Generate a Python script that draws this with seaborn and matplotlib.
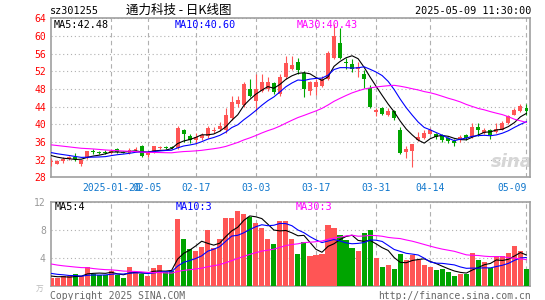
import numpy as np
import pandas as pd
import matplotlib
matplotlib.use('Agg')
import matplotlib.pyplot as plt
import seaborn as sns

sns.set_style("white")
plt.rcParams['font.family'] = ['DejaVu Sans Mono', 'Noto Sans CJK SC']

# -------------------------------
# data: sz301255 daily bars, 2025-01-06 .. 2025-05-09 (80 sessions)
# -------------------------------
opens = [31.4, 31.1, 31.7, 32.2, 32.5, 31.0, 32.4, 33.9, 33.8, 33.8,
         33.5, 34.4, 33.8, 33.4, 34.2, 35.0, 33.0, 33.6, 34.6, 34.9,
         34.8, 34.6, 38.7, 37.4, 36.5, 36.8, 37.3, 38.4, 38.9, 38.6,
         41.5, 44.6, 44.3, 48.0, 45.2, 47.6, 48.0, 49.3, 46.8, 50.6,
         52.6, 54.0, 51.7, 47.6, 48.4, 48.7, 50.2, 55.1, 58.5, 54.0,
         53.6, 52.5, 51.3, 48.2, 42.8, 43.8, 42.2, 42.9, 38.7, 33.7,
         33.9, 36.5, 36.9, 37.9, 37.7, 37.3, 36.8, 36.3, 36.4, 37.5,
         37.2, 39.5, 38.0, 38.8, 38.3, 38.8, 40.3, 42.2, 43.0, 43.6]
highs = [32.4, 32.0, 32.7, 32.8, 33.4, 32.0, 34.0, 34.4, 34.0, 34.1,
         34.3, 34.6, 33.9, 34.6, 34.8, 35.3, 33.9, 35.2, 35.0, 35.1,
         35.0, 39.7, 38.9, 37.8, 38.0, 38.0, 39.6, 39.3, 40.5, 43.6,
         46.3, 46.3, 49.6, 50.2, 51.4, 51.3, 50.8, 49.5, 51.3, 55.5,
         55.5, 54.9, 52.1, 49.8, 50.2, 51.0, 56.6, 62.6, 61.9, 55.1,
         54.7, 54.0, 52.2, 49.0, 43.8, 44.0, 43.6, 43.3, 39.5, 35.0,
         35.6, 38.3, 38.6, 39.2, 38.1, 37.8, 37.1, 36.7, 37.5, 37.7,
         40.3, 40.3, 39.2, 39.0, 40.3, 40.8, 42.2, 43.6, 44.6, 44.5]
lows = [30.5, 30.9, 31.2, 32.0, 31.6, 30.5, 32.2, 33.3, 33.2, 33.3,
        33.3, 33.6, 33.4, 33.3, 34.0, 32.5, 32.6, 33.4, 34.4, 34.5,
        34.3, 34.4, 36.1, 35.8, 35.8, 36.5, 37.0, 38.0, 38.5, 38.0,
        41.0, 44.0, 44.0, 46.2, 43.1, 47.3, 47.5, 46.8, 46.3, 50.3,
        52.3, 51.4, 46.1, 46.6, 46.6, 48.4, 50.0, 54.8, 54.7, 52.5,
        51.8, 50.6, 48.3, 43.8, 41.9, 42.0, 41.9, 41.0, 33.3, 32.4,
        30.3, 36.3, 36.7, 37.7, 36.7, 36.0, 35.8, 35.1, 35.9, 36.5,
        37.0, 37.3, 37.7, 36.6, 38.0, 38.6, 40.0, 42.0, 42.8, 42.0]
closes = [31.6, 31.8, 32.2, 32.5, 32.1, 31.9, 33.9, 33.7, 33.5, 33.6,
          34.0, 33.8, 33.6, 34.2, 34.4, 32.8, 33.4, 35.0, 34.8, 34.7,
          34.6, 39.1, 37.9, 36.4, 37.1, 37.6, 39.1, 38.8, 39.6, 42.0,
          45.0, 45.4, 49.2, 46.5, 48.0, 49.5, 49.5, 47.3, 50.8, 53.8,
          53.5, 52.2, 48.1, 49.6, 49.6, 50.2, 56.2, 60.0, 55.1, 53.8,
          52.5, 52.9, 50.3, 44.0, 43.3, 42.3, 43.0, 41.5, 33.6, 34.3,
          35.6, 37.1, 38.1, 38.6, 37.1, 36.4, 36.2, 35.8, 37.2, 36.8,
          39.5, 38.7, 38.8, 37.6, 39.0, 40.3, 41.8, 43.3, 44.1, 42.9]
volumes = [1.05, 1.05, 1.3, 1.3, 1.7, 1.3, 2.7, 1.7, 1.5, 1.5,
           2.1, 1.5, 1.1, 2.7, 2.0, 1.6, 1.4, 2.5, 2.9, 1.9,
           2.1, 9.5, 6.6, 5.2, 4.9, 5.5, 8.0, 5.3, 6.6, 9.6,
           9.6, 10.6, 10.2, 9.8, 9.0, 8.3, 6.6, 6.0, 9.2, 9.3,
           6.6, 4.5, 6.3, 4.2, 4.3, 4.5, 8.7, 8.2, 7.2, 6.5,
           5.4, 5.0, 7.5, 7.9, 4.0, 2.7, 3.0, 2.4, 4.5, 3.7,
           4.3, 3.7, 2.9, 2.6, 2.2, 2.4, 1.9, 1.3, 1.6, 1.7,
           4.6, 3.7, 3.3, 2.5, 4.2, 4.2, 4.6, 5.6, 5.0, 2.4]

# the 29 sessions before the window (only feed the moving averages)
pre_closes = [36.5, 36.8, 37.2, 36.9, 36.4, 36.0, 36.3, 36.8, 37.0, 36.6,
              36.1, 35.8, 36.2, 36.5, 36.0, 35.6, 35.2, 35.5, 35.8, 35.3,
              34.4, 34.2, 34.5, 34.3, 33.9, 33.6, 33.4, 33.1, 32.9]
pre_volumes = [5.6, 4.6, 3.9, 4.4, 3.6, 3.2, 5.4, 4.1, 3.5, 3.0,
               3.7, 4.2, 3.4, 2.9, 3.3, 3.8, 3.1, 2.7, 3.6, 3.0,
               2.4, 2.0, 2.3, 1.8, 2.1, 1.5, 1.3, 1.6, 1.3]

tick_idx = [10, 16, 24, 34, 44, 54, 63, 79]
tick_lbl = ['2025-01-20', '02-05', '02-17', '03-03', '03-17', '03-31', '04-14', '05-09']
price_ticks = [28, 32, 36, 40, 44, 48, 52, 56, 60, 64]
vol_ticks = [4, 8, 12]

code = 'sz301255'
title = '通力科技 - 日K线图'
stamp = '2025-05-09 11:30:00'
price_ma_lbl = ['MA5:42.48', 'MA10:40.60', 'MA30:40.43']
vol_ma_lbl = ['MA5:4', 'MA10:3', 'MA30:3']

# -------------------------------
# frame
# -------------------------------
df = pd.DataFrame({'idx': np.arange(len(closes)), 'open': opens, 'high': highs,
                   'low': lows, 'close': closes, 'vol': volumes})
df['dir'] = np.where(df['close'] > df['open'], 'up', 'down')

all_c = pd.Series(pre_closes + closes)
all_v = pd.Series(pre_volumes + volumes)
n0 = len(pre_closes)
for n in (5, 10, 30):
    df[f'ma{n}'] = all_c.rolling(n).mean().iloc[n0:].to_numpy()
    df[f'vma{n}'] = all_v.rolling(n).mean().iloc[n0:].to_numpy()

RED, GREEN = '#ff5555', '#00a400'
MA_COLORS = ['black', '#0000ff', '#ff00ff']
GRID = '#b0b0b0'
FRAME = '#a0a0a0'

W, H = 545, 300
fig = plt.figure(figsize=(W / 100, H / 100), dpi=100)
L, R = 50.7, 529.5
ax = fig.add_axes([L / W, 1 - 177.3 / H, (R - L) / W, (177.3 - 18.3) / H])
axv = fig.add_axes([L / W, 1 - 285.5 / H, (R - L) / W, (285.5 - 201.7) / H])


def ftext(x, y, s, **kw):
    fig.text(x / W, 1 - y / H, s, va='center', **kw)


# -------------------------------
# price panel
# -------------------------------
cols = np.where(df['dir'] == 'up', RED, GREEN)
ax.vlines(df['idx'], df['low'], df['high'], colors=cols, linewidth=0.8, zorder=3)
body = np.maximum((df['close'] - df['open']).abs(), 0.12)
ax.bar(df['idx'], body, bottom=np.minimum(df['open'], df['close']), width=0.66,
       color=cols, linewidth=0, zorder=3)
for n, c in zip((5, 10, 30), MA_COLORS):
    sns.lineplot(data=df, x='idx', y=f'ma{n}', color=c, linewidth=0.8, ax=ax, zorder=4)

ax.set_xlim(-0.1, 79.5)
ax.set_ylim(28, 64)
ax.set_yticks(price_ticks)
ax.set_xticks(tick_idx)
ax.set_xticklabels(tick_lbl)
ax.tick_params(axis='y', length=0, pad=3.5, labelsize=7, labelcolor='#ff0000')
ax.tick_params(axis='x', length=0, pad=4, labelsize=7, labelcolor='#1077cc')
ax.get_xticklabels()[-1].set_ha('right')
ax.set_xlabel('')
ax.set_ylabel('')
ax.set_axisbelow(True)
ax.yaxis.grid(True, linestyle=(0, (1, 2.5)), color=GRID, linewidth=0.8)
ax.xaxis.grid(True, linestyle=(0, (4, 3)), color=GRID, linewidth=0.8)

ax.text(0.5, 0.93, 'sina', transform=ax.transAxes, alpha=0)
ax.text(76.5, 31.5, 'sina', ha='center', va='center', fontsize=13, fontweight='bold',
        fontstyle='italic', color='#d6d6d6', family='DejaVu Sans', zorder=1)

# -------------------------------
# volume panel
# -------------------------------
sns.barplot(data=df, x='idx', y='vol', hue='dir', palette={'up': RED, 'down': GREEN},
            native_scale=True, width=0.85, dodge=False, legend=False, saturation=1,
            errorbar=None, linewidth=0, ax=axv, zorder=3)
for n, c in zip((5, 10, 30), MA_COLORS):
    sns.lineplot(data=df, x='idx', y=f'vma{n}', color=c, linewidth=0.8, ax=axv, zorder=4)

axv.set_xlim(-0.1, 79.5)
axv.set_ylim(0, 12)
axv.set_yticks(vol_ticks)
axv.set_xticks(tick_idx)
axv.set_xticklabels([])
axv.tick_params(axis='y', length=0, pad=3.5, labelsize=7, labelcolor='#999999')
axv.tick_params(axis='x', length=0)
axv.set_xlabel('')
axv.set_ylabel('')
axv.set_axisbelow(True)
axv.yaxis.grid(True, linestyle=(0, (1, 2.5)), color=GRID, linewidth=0.8)
axv.xaxis.grid(True, linestyle=(0, (4, 3)), color=GRID, linewidth=0.8)

for a in (ax, axv):
    for s in a.spines.values():
        s.set_color(FRAME)
        s.set_linewidth(1.2)

# -------------------------------
# texts
# -------------------------------
ftext(50, 10.5, code, fontsize=7.3, color='black')
ftext(179, 10.5, title, fontsize=9, color='black', ha='center',
      family=['Noto Sans CJK SC', 'DejaVu Sans'])
ftext(531, 11, stamp, fontsize=7.3, color='black', ha='right')
for s, x0, c in zip(price_ma_lbl, (54, 175, 296.5), MA_COLORS):
    ftext(x0, 25, s, fontsize=7.3, color=c)
for s, x0, c in zip(vol_ma_lbl, (55, 176, 296), MA_COLORS):
    ftext(x0, 207, s, fontsize=7.3, color=c)
ftext(40, 290, '万', fontsize=5.5, color='#bbbbbb', ha='center',
      family=['Noto Sans CJK SC', 'DejaVu Sans'])
ftext(50, 296, 'Copyright 2025 SINA.COM', fontsize=7, color='#666666')
ftext(531, 296, 'http://finance.sina.com.cn', fontsize=7, color='#666666', ha='right')

fig.savefig('out.png', dpi=100)
